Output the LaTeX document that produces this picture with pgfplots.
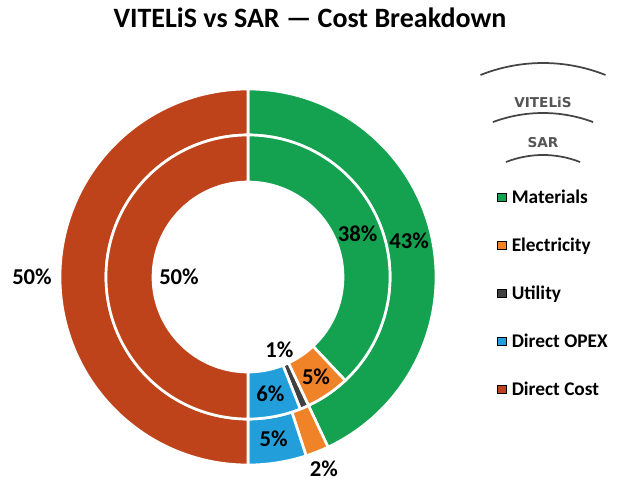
\documentclass[border=0pt]{standalone}
\usepackage{pgfplots}
\pgfplotsset{compat=1.18}
\usepackage{pgfplotstable}
\usepackage{fontspec}
\setmainfont{Carlito}
\newfontfamily\dejavu{DejaVu Sans}
\definecolor{c0}{HTML}{14A150}
\definecolor{c1}{HTML}{F08228}
\definecolor{c2}{HTML}{404040}
\definecolor{c3}{HTML}{229FDA}
\definecolor{c4}{HTML}{BF431A}
\definecolor{hdr}{HTML}{555555}
\definecolor{arcc}{HTML}{444444}

% outer ring = VITELiS, inner ring = SAR ; lr = label radius (px)
\pgfplotstableread{
name val lr
Materials 43 165
Electricity 2 206
Utility 0 0
DirectOPEX 5 164
DirectCost 50 216
}\outerdata
\pgfplotstableread{
name val lr
Materials 38 118
Electricity 5 121
Utility 1 79
DirectOPEX 6 119
DirectCost 50 69
}\innerdata

\tikzset{lbl/.style={font=\bfseries\fontsize{17}{19}\selectfont, inner sep=0pt}}

\newcommand\drawring[3]{%
  \def\cum{0}%
  \pgfplotsforeachungrouped \i in {0,...,4}{%
    \pgfplotstablegetelem{\i}{val}\of#1\let\v\pgfplotsretval
    \pgfmathsetmacro\aone{90-3.6*\cum}%
    \pgfmathsetmacro\atwo{90-3.6*(\cum+\v)}%
    \pgfmathsetmacro\cum{\cum+\v}%
    \ifdim\v pt>0pt
      \edef\cmd{\noexpand\fill[c\i,draw=white,line width=2pt] ([shift={(\aone:#3)}]axis cs:0,0) arc[start angle=\aone,end angle=\atwo,radius=#3] -- ([shift={(\atwo:#2)}]axis cs:0,0) arc[start angle=\atwo,end angle=\aone,radius=#2] -- cycle;}%
      \cmd
    \fi
  }%
}
\newcommand\labelring[1]{%
  \def\cum{0}%
  \pgfplotsforeachungrouped \i in {0,...,4}{%
    \pgfplotstablegetelem{\i}{val}\of#1\let\v\pgfplotsretval
    \pgfplotstablegetelem{\i}{lr}\of#1\let\lr\pgfplotsretval
    \pgfmathsetmacro\aone{90-3.6*\cum}%
    \pgfmathsetmacro\atwo{90-3.6*(\cum+\v)}%
    \pgfmathsetmacro\amid{(\aone+\atwo)/2}%
    \pgfmathsetmacro\lrp{\lr*0.75}%
    \pgfmathsetmacro\cum{\cum+\v}%
    \ifdim\v pt>0pt
      \edef\cmd{\noexpand\node[lbl] at ([shift={(\amid:\lrp pt)}]axis cs:0,0) {\v\noexpand\%};}%
      \cmd
    \fi
  }%
}

\begin{document}
\begin{tikzpicture}
\begin{axis}[
  x=0.75pt, y=0.75pt,
  xmin=-248, xmax=370, ymin=-213, ymax=277,
  scale only axis, hide axis, clip=false,
  legend image code/.code={\fill[#1] (0pt,-3.1pt) rectangle (6.2pt,3.1pt); \path (10.5pt,0pt);},
  legend style={at={(axis cs:249,88.7)}, anchor=north west, draw=none, fill=none,
    inner sep=0pt, row sep=23pt,
    font=\bfseries\fontsize{14.5}{16}\selectfont,
    nodes={inner sep=0pt, text height=11pt, text depth=2pt}},
  legend cell align=left,
]
\path (axis cs:-248,-213) rectangle (axis cs:370,277);

\drawring{\outerdata}{106.5pt}{141pt}
\drawring{\innerdata}{71.25pt}{106.5pt}
\labelring{\outerdata}
\labelring{\innerdata}

\addlegendimage{fill=c0}\addlegendentry{Materials}
\addlegendimage{fill=c1}\addlegendentry{Electricity}
\addlegendimage{fill=c2}\addlegendentry{Utility}
\addlegendimage{fill=c3}\addlegendentry{Direct OPEX}
\addlegendimage{fill=c4}\addlegendentry{Direct Cost}

% title
\node[font=\bfseries\fontsize{21}{24}\selectfont, anchor=base, inner sep=0pt] at (axis cs:62,249) {VITELiS vs SAR — Cost Breakdown};

% ring legend header
\draw[arcc, line width=1.3pt] ([shift={(111.7:126.75pt)}]axis cs:295,45) arc[start angle=111.7,end angle=68.3,radius=126.75pt];
\node[font=\dejavu\bfseries\fontsize{10.2}{12}\selectfont, text=hdr, inner sep=0pt] at (axis cs:295,175) {VITELiS};
\draw[arcc, line width=1.3pt] ([shift={(110.5:107.25pt)}]axis cs:295,21) arc[start angle=110.5,end angle=69.5,radius=107.25pt];
\node[font=\dejavu\bfseries\fontsize{10.2}{12}\selectfont, text=hdr, inner sep=0pt] at (axis cs:295,134) {SAR};
\draw[arcc, line width=1.3pt] ([shift={(111.5:75.75pt)}]axis cs:295,21) arc[start angle=111.5,end angle=68.5,radius=75.75pt];
\end{axis}
\end{tikzpicture}
\end{document}
